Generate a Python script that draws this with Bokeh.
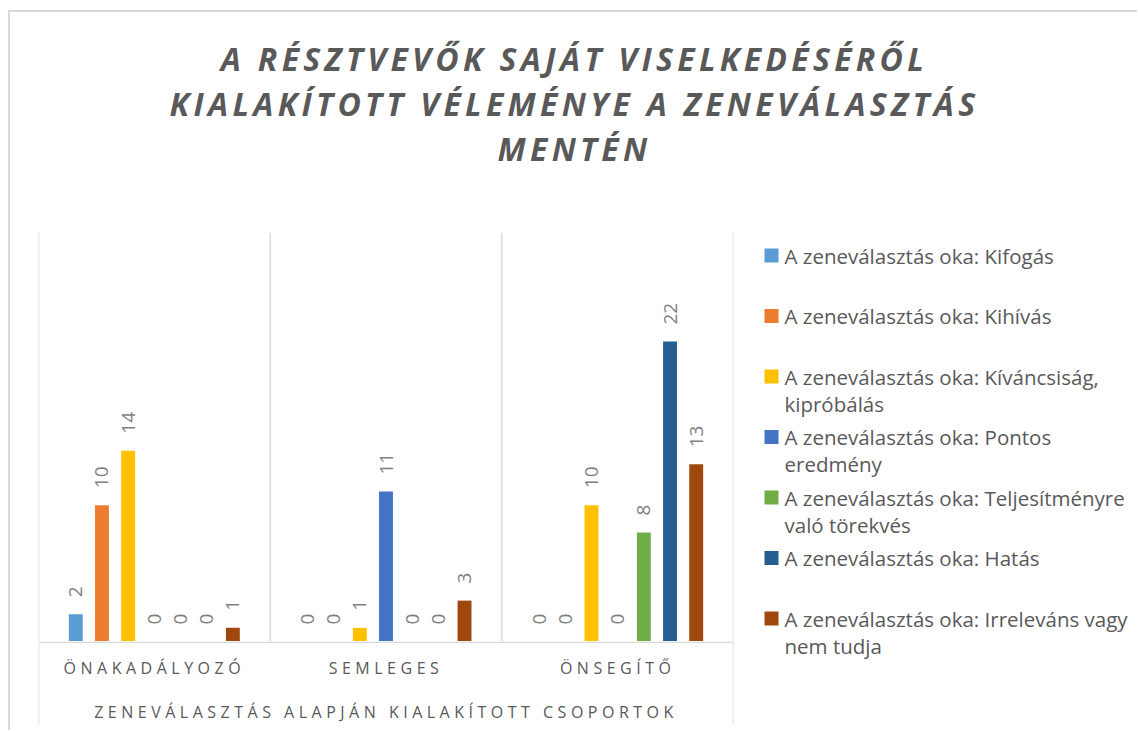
import math
from bokeh.plotting import figure
from bokeh.layouts import column, row
from bokeh.models import FactorRange, Range1d, ColumnDataSource, Span
from bokeh.transform import dodge
from bokeh.core.properties import value
from bokeh.embed import file_html
from bokeh.resources import INLINE

# ---------------- data ----------------
title_lines = ["A RÉSZTVEVŐK SAJÁT VISELKEDÉSÉRŐL",
               "KIALAKÍTOTT VÉLEMÉNYE A ZENEVÁLASZTÁS",
               "MENTÉN"]
categories = ["ÖNAKADÁLYOZÓ", "SEMLEGES", "ÖNSEGÍTŐ"]
x_axis_title = "ZENEVÁLASZTÁS ALAPJÁN KIALAKÍTOTT CSOPORTOK"

legend_labels = ["A zeneválasztás oka: Kifogás",
                 "A zeneválasztás oka: Kihívás",
                 "A zeneválasztás oka: Kíváncsiság,\nkipróbálás",
                 "A zeneválasztás oka: Pontos\neredmény",
                 "A zeneválasztás oka: Teljesítményre\nvaló törekvés",
                 "A zeneválasztás oka: Hatás",
                 "A zeneválasztás oka: Irreleváns vagy\nnem tudja"]

kifogas = [2, 0, 0]
kihivas = [10, 0, 0]
kivancsisag = [14, 1, 10]
pontos_eredmeny = [0, 11, 0]
teljesitmeny = [0, 0, 8]
hatas = [0, 0, 22]
irrelevans = [1, 3, 13]
series_values = [kifogas, kihivas, kivancsisag, pontos_eredmeny,
                 teljesitmeny, hatas, irrelevans]

colors = ["#5B9BD5", "#ED7D31", "#FFC000", "#4472C4", "#70AD47", "#255E91", "#9E480E"]

y_max = 30

# ---------------- styling / layout ----------------
text_gray = "#595959"
label_gray = "#7F7F7F"
line_gray = "#D9D9D9"
font = "Open Sans"

TITLE_W = 1127
TITLE_CX = 564
TITLE_H = 220
MAIN_W, LEG_W = 725, 395
PLOT_H = 409             # bar area height (y = 0 .. y_max)
AXIS_H = 84              # category label band below the bars
frame_left = 28
px_per_unit = PLOT_H / y_max
title_spacing = 4.3      # CSS letter-spacing (px) of the title
axis_spacing = 4.5       # CSS letter-spacing (px) of the category texts


def centre_fix(texts, spacing):
    # letter-spacing widens centred text to the right; shift it back by half
    return [-len(t) * spacing / 2 for t in texts]


def blank_fig(w, h, xr, yr, **kw):
    f = figure(width=w, height=h, x_range=xr, y_range=yr,
               output_backend="svg", toolbar_location=None,
               x_axis_location=None, y_axis_location=None,
               min_border=0, outline_line_color=None, **kw)
    f.xgrid.visible = False
    f.ygrid.visible = False
    return f


# ---------------- title ----------------
tf = blank_fig(TITLE_W, TITLE_H, Range1d(0, TITLE_W), Range1d(TITLE_H, 0),
               styles={"letter-spacing": f"{title_spacing}px"})
title_src = ColumnDataSource(dict(txt=title_lines,
                                  x=[TITLE_CX] * len(title_lines),
                                  y=[46 + 45 * i for i in range(len(title_lines))],
                                  dx=centre_fix(title_lines, title_spacing)))
tf.text(x="x", y="y", text="txt", source=title_src, x_offset="dx", text_align="center",
        text_baseline="middle", text_font=value(font), text_font_size="32px",
        text_font_style="bold italic", text_color=text_gray)

# ---------------- bars ----------------
xr = FactorRange(*categories, range_padding=0)
p = figure(width=MAIN_W, height=PLOT_H, x_range=xr, y_range=Range1d(0, y_max),
           output_backend="svg", toolbar_location=None,
           x_axis_location=None, y_axis_location=None,
           min_border_left=frame_left, min_border_right=2,
           min_border_top=0, min_border_bottom=0, outline_line_color=None)
p.xgrid.visible = False
p.ygrid.visible = False

for k in range(len(categories) + 1):
    p.add_layout(Span(location=k, dimension="height", line_color=line_gray, line_width=1.5))

n = len(series_values)
step = 0.113
bar_w = 0.06
for i, (vals, col) in enumerate(zip(series_values, colors)):
    src = ColumnDataSource(dict(cat=categories, val=vals, txt=[str(v) for v in vals]))
    off = (i - (n - 1) / 2) * step
    p.vbar(x=dodge("cat", off, range=xr), top="val", width=bar_w,
           source=src, fill_color=col, line_color=None)
    p.text(x=dodge("cat", off, range=xr), y="val", text="txt", source=src,
           angle=math.pi / 2, text_align="left", text_baseline="middle",
           y_offset=-17, text_font=value(font), text_font_size="19px",
           text_color=label_gray)

# ---------------- category band (baseline, category names, axis title) ----------------
top_pad = 0.06
q = figure(width=MAIN_W, height=AXIS_H, x_range=xr,
           y_range=Range1d(top_pad - AXIS_H / px_per_unit, top_pad),
           output_backend="svg", toolbar_location=None,
           x_axis_location=None, y_axis_location=None,
           min_border_left=frame_left, min_border_right=2,
           min_border_top=0, min_border_bottom=0, outline_line_color=None,
           styles={"letter-spacing": f"{axis_spacing}px"})
q.xgrid.visible = False
q.ygrid.visible = False
q.add_layout(Span(location=0, dimension="height", line_color=line_gray, line_width=1.5))
q.add_layout(Span(location=len(categories), dimension="height", line_color=line_gray, line_width=1.5))
q.add_layout(Span(location=0, dimension="width", line_color=line_gray, line_width=1.5))

cat_src = ColumnDataSource(dict(cat=categories, y=[0] * len(categories),
                                dx=centre_fix(categories, axis_spacing)))
q.text(x="cat", y="y", text="cat", source=cat_src, x_offset="dx", y_offset=26,
       text_align="center", text_baseline="middle", text_font=value(font),
       text_font_size="16px", text_color=text_gray)

axt_src = ColumnDataSource(dict(x=[len(categories) / 2], y=[0], txt=[x_axis_title],
                                dx=centre_fix([x_axis_title], axis_spacing)))
q.text(x="x", y="y", text="txt", source=axt_src, x_offset="dx", y_offset=70,
       text_align="center", text_baseline="middle", text_font=value(font),
       text_font_size="16px", text_color=text_gray)

# ---------------- legend ----------------
item_h = 60.5
first_center = 23
BODY_H = PLOT_H + AXIS_H
lf = blank_fig(LEG_W, BODY_H, Range1d(0, LEG_W),
               Range1d((BODY_H - first_center) / item_h, -first_center / item_h))
leg_src = ColumnDataSource(dict(idx=list(range(len(legend_labels))),
                                lab=legend_labels, col=colors))
lf.scatter(x=36, y="idx", source=leg_src, marker="square", size=14,
           fill_color="col", line_color=None)
lf.text(x=49, y="idx", text="lab", source=leg_src, text_align="left",
        text_baseline="top", y_offset=-14, text_font=value(font),
        text_font_size="20.5px", text_line_height=0.98, text_color=text_gray)

layout = column(tf, row(column(p, q), lf), margin=(10, 0, 0, 8),
                styles={"border-left": "2px solid #D9D9D9", "border-top": "2px solid #D9D9D9",
                        "padding-bottom": "5px"})

open("out.html", "w").write(file_html(layout, INLINE))
